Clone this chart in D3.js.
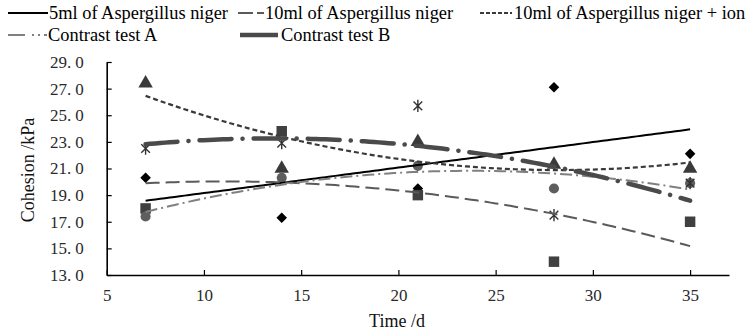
<!DOCTYPE html>
<html>
<head>
<meta charset="utf-8">
<script src="https://cdn.jsdelivr.net/npm/d3@7"></script>
<style>
  html, body { margin: 0; padding: 0; background: #fff; }
  svg { display: block; }
  text { font-family: "Liberation Serif", "Times New Roman", serif; }
</style>
</head>
<body>
<div id="chart"></div>
<script>
// ---- data ----
const days = [7, 14, 21, 28, 35];
const seriesNames = [
  "5ml of Aspergillus niger",
  "10ml of Aspergillus niger",
  "10ml of Aspergillus niger + ion",
  "Contrast test A",
  "Contrast test B"
];
const aspergillus5 = [20.3, 17.3, 19.5, 27.1, 22.1];
const aspergillus10 = [18.0, 23.8, 19.0, 14.0, 17.0];
const aspergillus10Ion = [27.4, 21.0, 23.0, 21.3, 21.0];
const contrastA = [17.4, 20.3, 21.2, 19.5, 19.9];
const contrastB = [22.5, 22.9, 25.7, 17.5, 19.9];
const trendDegree = [1, 2, 2, 2, 2];
const xTicks = [5, 10, 15, 20, 25, 30, 35];
const yTicks = [13, 15, 17, 19, 21, 23, 25, 27, 29];
const xLabel = "Time /d";
const yLabel = "Cohesion /kPa";

const W = 754, H = 333;
const svg = d3.select("#chart").append("svg").attr("width", W).attr("height", H);

const x = d3.scaleLinear().domain([5, 37]).range([106.7, 729]);
const y = d3.scaleLinear().domain([13, 29]).range([275, 62]);

// styles per series
const styles = [
  { color: "#000000", width: 2, dash: null, cap: "butt", marker: "diamond", mcolor: "#000000" },
  { color: "#5a5a5a", width: 2, dash: "14,6", cap: "butt", marker: "square", mcolor: "#404040" },
  { color: "#3a3a3a", width: 2.2, dash: "5,3", cap: "butt", marker: "triangle", mcolor: "#3a3a3a" },
  { color: "#808080", width: 2, dash: "12,4,2,4", cap: "butt", marker: "circle", mcolor: "#5e5e5e" },
  { color: "#4a4a4a", width: 4.5, dash: "32,11,0.1,11", cap: "round", marker: "star", mcolor: "#333333" }
];
const allSeries = [aspergillus5, aspergillus10, aspergillus10Ion, contrastA, contrastB];

// ---- axes ----
const gx = svg.append("g").attr("transform", `translate(0,${y(13)})`)
  .call(d3.axisBottom(x).tickValues(xTicks).tickSizeInner(-5).tickSizeOuter(0).tickPadding(14));
const gy = svg.append("g").attr("transform", `translate(${x(5)},0)`)
  .call(d3.axisLeft(y).tickValues(yTicks).tickSizeInner(-5).tickSizeOuter(0).tickPadding(24)
    .tickFormat(d => d3.format(".1f")(d)));
[gx, gy].forEach(g => {
  g.select(".domain").attr("stroke", "#000").attr("stroke-width", 1.6);
  g.selectAll(".tick line").attr("stroke", "#000").attr("stroke-width", 1.2);
  g.selectAll("text").attr("font-family", "\"Liberation Serif\", serif").attr("font-size", 17).attr("fill", "#2a2a2a");
});
// y axis: keep a gap after the decimal point as in the reference
gy.selectAll(".tick text").each(function(d) {
  const s = d3.format(".1f")(d);
  const parts = s.split(".");
  const t = d3.select(this).text(null);
  t.append("tspan").text(parts[0] + ".");
  t.append("tspan").attr("dx", 4).text(parts[1]);
});
gy.selectAll(".tick text").attr("x", -23);

svg.append("text").attr("x", 397).attr("y", 327).attr("text-anchor", "middle")
  .attr("font-size", 18).attr("fill", "#111").text(xLabel);
svg.append("text").attr("transform", `translate(34,170) rotate(-90)`).attr("text-anchor", "middle")
  .attr("font-size", 18).attr("fill", "#111").text(yLabel);

// ---- markers ----
const starType = {
  draw(ctx, size) {
    const r = Math.sqrt(size) / 2;
    const d = r * Math.SQRT1_2;
    ctx.moveTo(0, -r); ctx.lineTo(0, r);
    ctx.moveTo(-d, -d); ctx.lineTo(d, d);
    ctx.moveTo(-d, d); ctx.lineTo(d, -d);
  }
};
const symbolFor = {
  diamond: { type: d3.symbolSquare, size: 56, rot: 45 },
  square: { type: d3.symbolSquare, size: 110, rot: 0 },
  triangle: { type: d3.symbolTriangle, size: 90, rot: 0 },
  circle: { type: d3.symbolCircle, size: 80, rot: 0 },
  star: { type: starType, size: 150, rot: 0 }
};
allSeries.forEach((vals, i) => {
  const st = styles[i];
  const sym = symbolFor[st.marker];
  const g = svg.append("g");
  g.selectAll("path").data(days.map((d, k) => [d, vals[k]])).join("path")
    .attr("transform", d => `translate(${x(d[0])},${y(d[1])}) rotate(${sym.rot})`)
    .attr("d", d3.symbol().type(sym.type).size(sym.size))
    .attr("fill", st.marker === "star" ? "none" : st.mcolor)
    .attr("stroke", st.marker === "star" ? st.mcolor : "none")
    .attr("stroke-width", st.marker === "star" ? 1.4 : 0);
});

// ---- trendlines (least-squares polynomial fits of each series) ----
function polyfit(xs, ys, deg) {
  const n = deg + 1;
  const A = Array.from({ length: n }, () => new Array(n + 1).fill(0));
  for (let r = 0; r < n; r++) {
    for (let c = 0; c < n; c++) A[r][c] = d3.sum(xs, v => Math.pow(v, r + c));
    A[r][n] = d3.sum(xs, (v, k) => Math.pow(v, r) * ys[k]);
  }
  for (let i = 0; i < n; i++) {
    let p = i;
    for (let r = i + 1; r < n; r++) if (Math.abs(A[r][i]) > Math.abs(A[p][i])) p = r;
    [A[i], A[p]] = [A[p], A[i]];
    for (let r = 0; r < n; r++) {
      if (r === i) continue;
      const f = A[r][i] / A[i][i];
      for (let c = i; c <= n; c++) A[r][c] -= f * A[i][c];
    }
  }
  return A.map((row, i) => row[n] / row[i]);
}
const line = d3.line().x(d => x(d[0])).y(d => y(d[1]));
allSeries.forEach((vals, i) => {
  const st = styles[i];
  const coef = polyfit(days, vals, trendDegree[i]);
  const pts = d3.range(days[0], days[days.length - 1] + 0.001, 0.25)
    .map(t => [t, coef.reduce((s, c, k) => s + c * Math.pow(t, k), 0)]);
  svg.append("path").datum(pts).attr("d", line)
    .attr("fill", "none").attr("stroke", st.color).attr("stroke-width", st.width)
    .attr("stroke-dasharray", st.dash).attr("stroke-linecap", st.cap);
});

// ---- legend ----
const legendPos = [
  { sx: 8, ex: 48, tx: 49, y: 19 },
  { sx: 238, ex: 264, tx: 265, y: 19 },
  { sx: 480, ex: 512, tx: 514, y: 19 },
  { sx: 8, ex: 47, tx: 48, y: 41 },
  { sx: 240, ex: 278, tx: 281, y: 41 }
];
const legendDash = [null, "15,4,7,0", "4,2", "17,7,2,4,2,4,5", null];
const legendWidth = [2, 2, 2, 2, 4.5];
const lg = svg.append("g");
seriesNames.forEach((name, i) => {
  const p = legendPos[i];
  lg.append("line").attr("x1", p.sx).attr("x2", p.ex).attr("y1", p.y - 6).attr("y2", p.y - 6)
    .attr("stroke", styles[i].color).attr("stroke-width", legendWidth[i])
    .attr("stroke-dasharray", legendDash[i]);
  lg.append("text").attr("x", p.tx).attr("y", p.y).attr("font-size", 18.4).attr("fill", "#000").text(name);
});
</script>
</body>
</html>
